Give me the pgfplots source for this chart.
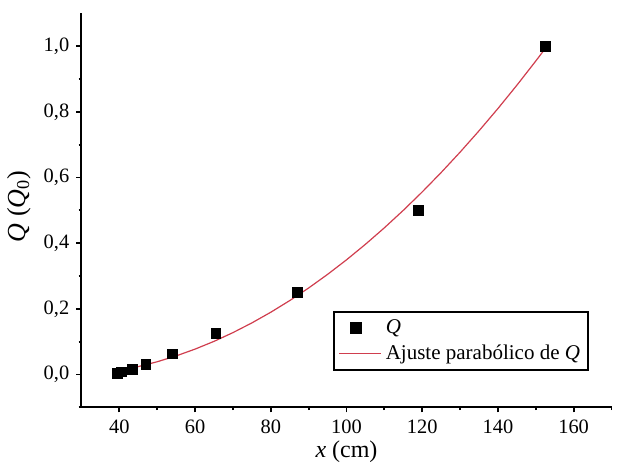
\documentclass[border=0pt]{standalone}
\usepackage{pgfplots}
\pgfplotsset{compat=1.18}
\usepackage{fontspec}
\setmainfont{Liberation Serif}

\definecolor{fitred}{RGB}{208,62,78}
\pgfplotsset{longline legend/.style={legend image code/.code={\draw[##1] (0cm,0cm) -- (0.74cm,0cm);}}}

\begin{document}
\begin{tikzpicture}
\begin{axis}[
    name=main,
    scale only axis,
    width=265pt, height=197pt,
    xmin=30, xmax=170,
    ymin=-0.1, ymax=1.1,
    axis lines=left,
    axis line style={-, line width=1pt},
    tick align=outside,
    major tick length=2.6pt,
    minor tick length=1.4pt,
    every tick/.style={black, line width=0.9pt},
    xtick={40,60,...,160},
    minor xtick={50,70,...,170},
    ytick={0,0.2,0.4,0.6,0.8,1.0},
    minor ytick={-0.1,0.1,0.3,0.5,0.7,0.9},
    /pgf/number format/assume math mode=true,
    ticklabel style={font=\fontsize{10.2}{12}\selectfont},
    yticklabel style={/pgf/number format/.cd, fixed, fixed zerofill, precision=1, use comma},
    xlabel={\textit{x} (cm)},
    ylabel={\textit{Q} (\textit{Q}\textsubscript{0})},
    xlabel style={font=\fontsize{12}{14}\selectfont, at={(axis description cs:0.5,-0.114)}, anchor=center},
    ylabel style={font=\fontsize{13}{15}\selectfont, at={(axis description cs:-0.118,0.51)}, anchor=center},
    legend cell align=left,
    legend style={
        at={(axis description cs:0.9575,0.092)}, anchor=south east,
        draw=black, line width=1pt,
        font=\fontsize{10.5}{12.5}\selectfont,
        inner xsep=2pt, inner ysep=2pt,
        row sep=0pt,
    },
]
\addplot[only marks, mark=square*, mark size=2.4pt, mark options={fill=black, draw=black}]
coordinates {
(39.5,0.0039) (40.5,0.0078) (43.5,0.0156) (47,0.03125) (54,0.0625)
(65.5,0.125) (87,0.25) (119,0.5) (152.5,1.0)
};
\addlegendentry{\textit{Q}}

\addplot[fitred, line width=0.6pt, no marks, longline legend]
coordinates {
(40,0.0120) (45,0.0239) (50,0.0387) (55,0.0565) (60,0.0772) (65,0.1008)
(70,0.1274) (75,0.1570) (80,0.1895) (85,0.2250) (90,0.2634) (95,0.3048)
(100,0.3491) (105,0.3964) (110,0.4466) (115,0.4998) (120,0.5559)
(125,0.6150) (130,0.6770) (135,0.7420) (140,0.8099) (145,0.8808)
(150,0.9547) (152,0.9850)
};
\addlegendentry{Ajuste parabólico de \textit{Q}}
\end{axis}
\pgfresetboundingbox
\path[use as bounding box] ([xshift=-40.75pt,yshift=-28.35pt]main.south west)
    rectangle ([xshift=4.75pt,yshift=6.65pt]main.north east);
\end{tikzpicture}
\end{document}
